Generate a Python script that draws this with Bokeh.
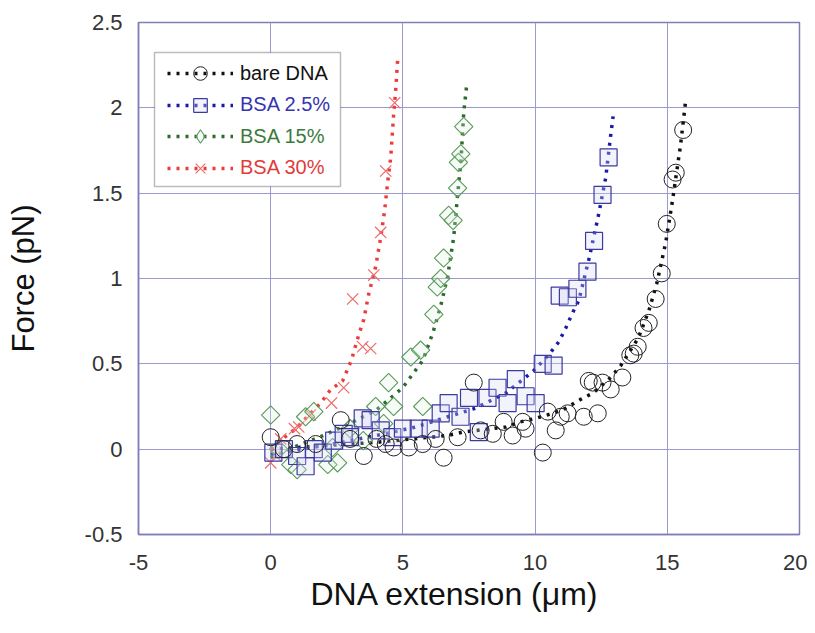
import math
from bokeh.plotting import figure
from bokeh.models import FixedTicker, Legend, LegendItem, Range1d, BoxAnnotation, Title
from bokeh.embed import file_html
from bokeh.resources import INLINE

# ---------------- data ----------------
x_ticks = [-5, 0, 5, 10, 15, 20]
x_tick_labels = ["-5", "0", "5", "10", "15", "20"]
y_ticks = [-0.5, 0, 0.5, 1, 1.5, 2, 2.5]
y_tick_labels = ["-0.5", "0", "0.5", "1", "1.5", "2", "2.5"]

series_names = ["bare DNA", "BSA 2.5%", "BSA 15%", "BSA 30%"]
x_title = "DNA extension (μm)"
y_title = "Force (pN)"

# bare DNA (circles)
dna_x = [0, 0.5, 1.0, 1.7, 2.65, 3.0, 3.52, 4.0, 4.35, 4.65, 5.22, 5.75, 6.24, 6.54, 7.07,
         7.68, 7.94, 8.4, 8.81, 9.15, 9.53, 9.64, 10.29, 10.48, 10.78, 10.97, 11.23, 11.84,
         12.03, 12.18, 12.37, 12.55, 12.86, 13.3, 13.6, 13.73, 13.88, 14.1, 14.3, 14.56,
         14.79, 14.98, 15.2, 15.32, 15.6]
dna_y = [0.07, 0.0, 0.03, 0.03, 0.17, 0.06, -0.04, 0.06, 0.03, 0.01, 0.01, 0.03, 0.06, -0.05,
         0.07, 0.39, 0.11, 0.09, 0.16, 0.08, 0.16, 0.12, -0.02, 0.22, 0.11, 0.19, 0.21, 0.19,
         0.4, 0.39, 0.21, 0.39, 0.35, 0.42, 0.55, 0.56, 0.6, 0.71, 0.74, 0.88, 1.03, 1.32,
         1.58, 1.62, 1.87]
dna_fit_x = [0, 2, 4, 6, 6.7, 7.26, 8.32, 8.9, 9.45, 10.0, 10.67, 11.16, 11.7, 12.2, 12.86,
             13.24, 13.9, 14.3, 14.6, 14.94, 15.2, 15.5, 15.7]
dna_fit_y = [0.0, 0.02, 0.04, 0.07, 0.08, 0.10, 0.12, 0.13, 0.16, 0.18, 0.21, 0.24, 0.29, 0.33,
             0.42, 0.49, 0.65, 0.81, 0.97, 1.21, 1.46, 1.78, 2.05]

# BSA 2.5% (squares)
b25_x = [0.1, 0.5, 1.0, 1.32, 1.63, 1.97, 2.4, 2.76, 3.0, 3.48, 3.78, 4.16, 4.6, 5.0, 5.6,
         6.05, 6.43, 6.73, 7.18, 7.5, 7.87, 8.2, 8.58, 8.96, 9.27, 9.64, 10.02, 10.29, 10.7,
         10.93, 11.24, 11.6, 11.98, 12.23, 12.55, 12.78]
b25_y = [-0.02, 0.0, -0.04, -0.1, 0.0, -0.02, 0.05, 0.09, 0.07, 0.18, 0.17, 0.11, 0.07, 0.12,
         0.12, 0.12, 0.21, 0.27, 0.19, 0.3, 0.1, 0.3, 0.36, 0.27, 0.41, 0.31, 0.27, 0.5, 0.49,
         0.9, 0.89, 0.94, 1.04, 1.22, 1.49, 1.71]
b25_fit_x = [0, 2, 4, 5.5, 6.7, 7.75, 8.9, 9.95, 10.5, 10.9, 11.16, 11.42, 11.65, 12.03, 12.37,
             12.67, 12.86, 12.95]
b25_fit_y = [-0.03, 0.02, 0.08, 0.13, 0.19, 0.24, 0.33, 0.46, 0.55, 0.63, 0.71, 0.8, 0.87,
             1.11, 1.35, 1.59, 1.84, 1.95]

# BSA 15% (diamonds)
b15_x = [0, 0.3, 0.76, 1.0, 1.32, 1.63, 2.16, 2.34, 2.53, 3.0, 3.5, 3.97, 4.27, 4.46, 4.65,
         5.3, 5.67, 5.75, 6.17, 6.3, 6.43, 6.54, 6.73, 6.9, 7.07, 7.1, 7.19, 7.3]
b15_y = [0.2, 0.0, -0.09, -0.12, 0.19, 0.22, -0.09, 0.01, -0.08, 0.12, 0.05, 0.25, 0.15, 0.39,
         0.25, 0.54, 0.58, 0.25, 0.79, 0.95, 1.0, 1.12, 1.37, 1.34, 1.53, 1.68, 1.73, 1.89]
b15_fit_x = [0, 1, 2, 3, 4, 4.46, 4.99, 5.37, 5.75, 6.13, 6.43, 6.69, 6.92, 7.07, 7.2, 7.3, 7.41]
b15_fit_y = [-0.05, 0.02, 0.08, 0.15, 0.23, 0.29, 0.36, 0.44, 0.52, 0.68, 0.84, 1.01, 1.24,
             1.49, 1.7, 1.97, 2.13]

# BSA 30% (crosses)
b30_x = [0, 0.2, 0.38, 0.9, 1.06, 1.5, 2.3, 2.76, 3.1, 3.48, 3.78, 3.9, 4.16, 4.35, 4.69]
b30_y = [-0.08, -0.04, 0.06, 0.12, 0.13, 0.2, 0.27, 0.36, 0.88, 0.6, 0.59, 1.02, 1.27, 1.63, 2.03]
b30_fit_x = [0, 0.45, 1.02, 1.44, 1.89, 2.27, 2.72, 3.05, 3.33, 3.52, 3.71, 3.97, 4.16, 4.31,
             4.42, 4.54, 4.65, 4.73, 4.8]
b30_fit_y = [0.0, 0.06, 0.13, 0.2, 0.27, 0.35, 0.4, 0.52, 0.67, 0.76, 0.91, 1.07, 1.24, 1.4,
             1.56, 1.71, 1.96, 2.11, 2.28]

# ---------------- figure ----------------
FONT = "Liberation Sans"
FRAME_W, FRAME_H = 661, 512
B_LEFT, B_TOP, B_RIGHT, B_BOTTOM = 138, 22, 8, 91
X0, X1, Y0, Y1 = -5, 20, -0.5, 2.5
p = figure(width=B_LEFT + FRAME_W + B_RIGHT, height=B_TOP + FRAME_H + B_BOTTOM,
           output_backend="svg", toolbar_location=None,
           x_range=Range1d(X0, X1), y_range=Range1d(Y0, Y1),
           min_border_left=B_LEFT, min_border_right=B_RIGHT,
           min_border_top=B_TOP, min_border_bottom=B_BOTTOM)
p.background_fill_color = "white"
p.border_fill_color = "white"
p.outline_line_color = "#7f7fb8"
p.outline_line_width = 1.5

p.xaxis.ticker = FixedTicker(ticks=x_ticks)
p.yaxis.ticker = FixedTicker(ticks=y_ticks)
p.xaxis.major_label_overrides = {t: l for t, l in zip(x_ticks, x_tick_labels)}
p.yaxis.major_label_overrides = {t: l for t, l in zip(y_ticks, y_tick_labels)}
p.xgrid.ticker = FixedTicker(ticks=x_ticks)
p.ygrid.ticker = FixedTicker(ticks=y_ticks)
p.grid.grid_line_color = "#9a9acc"
p.grid.grid_line_width = 1
p.grid.grid_line_alpha = 1.0

for ax in (p.xaxis, p.yaxis):
    ax.axis_line_color = "#7f7fb8"
    ax.axis_line_width = 1.5
    ax.major_tick_out = 0
    ax.major_tick_in = 0
    ax.minor_tick_out = 0
    ax.minor_tick_in = 0
    ax.major_label_text_font = FONT
    ax.major_label_text_font_size = "22px"
    ax.major_label_text_color = "#333333"
p.xaxis.major_label_standoff = 20
p.yaxis.major_label_standoff = 16

# y axis title
p.yaxis.axis_label = y_title
p.yaxis.axis_label_text_font = FONT
p.yaxis.axis_label_text_font_size = "31px"
p.yaxis.axis_label_text_font_style = "normal"
p.yaxis.axis_label_text_color = "#111111"
p.yaxis.axis_label_standoff = 41

# x axis title: side title, shifted a little left like the original
xt = Title(text=x_title, align="left", offset=172, standoff=2,
           text_font=FONT, text_font_size="32px", text_font_style="normal", text_color="#111111")
p.add_layout(xt, "below")

px_x = (X1 - X0) / FRAME_W
px_y = (Y1 - Y0) / FRAME_H

dash = "3 6"
lw = 3.5

# fit lines
l_dna = p.line(dna_fit_x, dna_fit_y, line_color="#111111", line_width=lw, line_dash=dash)
l_b25 = p.line(b25_fit_x, b25_fit_y, line_color="#1a1aa6", line_width=lw, line_dash=dash)
l_b15 = p.line(b15_fit_x, b15_fit_y, line_color="#2c6b2c", line_width=lw, line_dash=dash)
l_b30 = p.line(b30_fit_x, b30_fit_y, line_color="#ee3a3a", line_width=lw, line_dash=dash)

# markers
m_b30 = p.scatter(b30_x, b30_y, marker="x", size=16, line_color="#ee6a6a", line_width=1.2)
m_b15 = p.scatter(b15_x, b15_y, marker="square", angle=math.pi / 4, size=13,
                  line_color="#5a9a5a", line_width=1.1, fill_color="#dfeedf", fill_alpha=0.25)
m_b25 = p.scatter(b25_x, b25_y, marker="square", size=17, line_color="#3a3aa0", line_width=1.2,
                  fill_color="#d8d8f4", fill_alpha=0.3)
m_dna = p.scatter(dna_x, dna_y, marker="circle", size=17, line_color="#222222", line_width=1.0,
                  fill_color="white", fill_alpha=0.0)
# legend-only diamond symbol (legend glyphs ignore marker angle); NaN so nothing shows in the plot
m_b15_leg = p.scatter(x=[float("nan")], y=[float("nan")], marker="diamond", size=13,
                      line_color="#5a9a5a", line_width=1.1, fill_color="#dfeedf", fill_alpha=0.25)

# legend box (screen pixels inside the frame -> data units)
box = BoxAnnotation(left=X0 + 16 * px_x, right=X0 + 202 * px_x,
                    top=Y1 - 30 * px_y, bottom=Y1 - 164 * px_y,
                    fill_color="white", fill_alpha=1.0,
                    line_color="#222222", line_width=1.5)
p.add_layout(box)

label_colors = ["#111111", "#3535b0", "#3d7a3d", "#e03c3c"]
renderers = [(l_dna, m_dna), (l_b25, m_b25), (l_b15, m_b15_leg), (l_b30, m_b30)]
row_centers = [51, 82.5, 114, 145.5]  # px below frame top
GH = 34
for name, col, rs, c in zip(series_names, label_colors, renderers, row_centers):
    lg = Legend(items=[LegendItem(label=name, renderers=list(rs))],
                location=(29, FRAME_H - (c - GH / 2) - GH))
    lg.border_line_alpha = 0
    lg.background_fill_alpha = 0
    lg.label_text_font = FONT
    lg.label_text_font_size = "20px"
    lg.label_text_color = col
    lg.glyph_width = 66
    lg.glyph_height = GH
    lg.label_height = GH
    lg.padding = 0
    lg.label_standoff = 7
    lg.margin = 0
    p.add_layout(lg, "center")

open("out.html", "w").write(file_html(p, INLINE))
